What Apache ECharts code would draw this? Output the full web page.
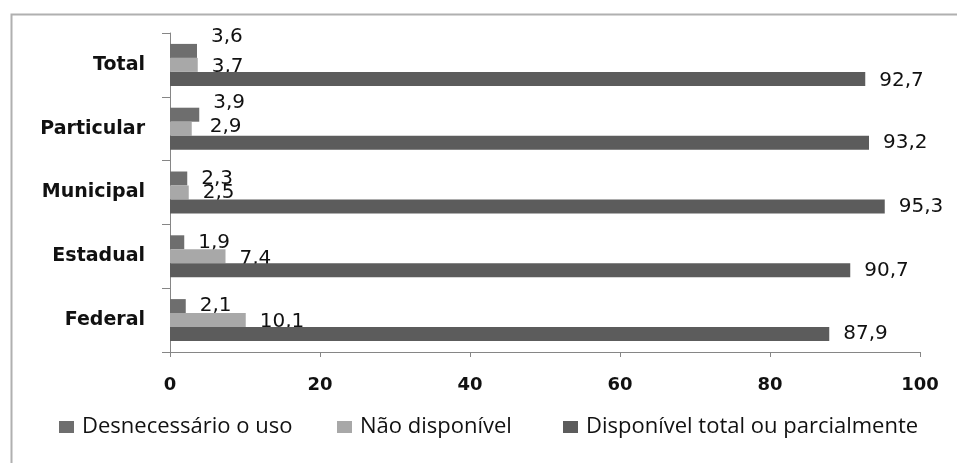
<!DOCTYPE html>
<html>
<head>
<meta charset="utf-8">
<script src="https://cdn.jsdelivr.net/npm/echarts@6/dist/echarts.min.js"></script>
<style>
  html, body { margin: 0; padding: 0; background: #ffffff; }
  #chart { width: 957px; height: 463px; }
</style>
</head>
<body>
<div id="chart"></div>
<script>
// Categories (top to bottom) and the three series, in percent
const categories = ['Total', 'Particular', 'Municipal', 'Estadual', 'Federal'];
const seriesNames = ['Desnecessário o uso', 'Não disponível', 'Disponível total ou parcialmente'];
const desnecessario = [3.6, 3.9, 2.3, 1.9, 2.1];
const naoDisponivel = [3.7, 2.9, 2.5, 7.4, 10.1];
const disponivel = [92.7, 93.2, 95.3, 90.7, 87.9];

const colors = ['#6e6e6e', '#a8a8a8', '#5c5c5c'];
const labelFont = { fontFamily: 'DejaVu Sans', fontSize: 20, color: '#111111' };

// A few labels sit above their bar so they do not collide with neighbours
const labelNudge = {
  0: { 0: [0, -14], 1: [0, -12] },
  1: { 0: [0, 2], 1: [4, -2], 3: [0, 2], 4: [0, 2] },
  2: { 0: [0, 2] }
};

function fmt(v) { return String(v).replace('.', ','); }

function makeSeries(idx, values) {
  return {
    name: seriesNames[idx],
    type: 'bar',
    barWidth: 14,
    barGap: '0%',
    z: 2 + idx,
    itemStyle: { color: colors[idx] },
    label: Object.assign({
      show: true,
      position: 'right',
      distance: 14,
      formatter: p => fmt(p.value)
    }, labelFont),
    data: values.map((v, i) => {
      const nudge = labelNudge[idx] && labelNudge[idx][i];
      return nudge ? { value: v, label: { offset: nudge } } : v;
    })
  };
}

const legendLeft = [59, 337, 563];

const option = {
  animation: false,
  backgroundColor: '#ffffff',
  graphic: [{
    type: 'rect',
    left: 9, top: 12,
    shape: { width: 980, height: 480 },
    style: { fill: 'none', stroke: '#b0b0b0', lineWidth: 2 },
    silent: true
  }],
  grid: { left: 170, right: 37, top: 33, bottom: 111, containLabel: false },
  legend: seriesNames.map((name, i) => ({
    data: [name],
    left: legendLeft[i],
    top: 416,
    padding: 0,
    icon: 'rect',
    itemWidth: 15,
    itemHeight: 12,
    itemGap: 0,
    selectedMode: false,
    textStyle: { fontFamily: 'Open Sans', fontSize: 22, color: '#111111', padding: [0, 0, 0, 3] }
  })),
  xAxis: {
    type: 'value',
    min: 0, max: 100, interval: 20,
    axisLine: { show: true, lineStyle: { color: '#868686', width: 1 } },
    axisTick: { show: true, length: 5, lineStyle: { color: '#868686' } },
    splitLine: { show: false },
    axisLabel: { margin: 24, fontFamily: 'DejaVu Sans', fontWeight: 'bold', fontSize: 18, color: '#111111' }
  },
  yAxis: {
    type: 'category',
    inverse: true,
    data: categories,
    axisLine: { show: true, lineStyle: { color: '#868686', width: 1 } },
    axisTick: { show: true, length: 8, lineStyle: { color: '#868686' } },
    axisLabel: { margin: 25, fontFamily: 'DejaVu Sans', fontWeight: 'bold', fontSize: 19, color: '#111111' }
  },
  series: [
    makeSeries(0, desnecessario),
    makeSeries(1, naoDisponivel),
    makeSeries(2, disponivel)
  ]
};

const chart = echarts.init(document.getElementById('chart'), null, { renderer: 'canvas' });
chart.setOption(option);
</script>
</body>
</html>
